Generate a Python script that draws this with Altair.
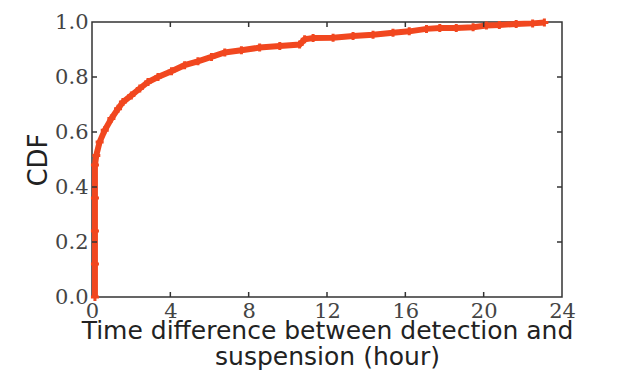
import altair as alt
import pandas as pd

# CDF of time difference (hours)
hours = [0.15, 0.15, 0.15, 0.15, 0.15, 0.22, 0.39, 0.65, 0.99, 1.33, 1.58, 2.01, 2.44, 2.86,
         3.37, 4.06, 4.73, 5.41, 6.10, 6.78, 7.63, 8.56, 9.59, 10.6, 10.86, 11.29, 12.31,
         13.33, 14.35, 15.37, 16.2, 17.08, 17.76, 18.6, 19.46, 20.14, 20.8, 21.66, 22.5, 23.1]
cdf = [0.0, 0.12, 0.24, 0.36, 0.48, 0.515, 0.564, 0.606, 0.649, 0.685, 0.709, 0.733, 0.758, 0.782,
       0.800, 0.821, 0.843, 0.857, 0.873, 0.889, 0.897, 0.907, 0.913, 0.918, 0.937, 0.942, 0.943,
       0.949, 0.954, 0.961, 0.966, 0.975, 0.978, 0.978, 0.981, 0.987, 0.989, 0.993, 0.995, 0.998]

x_ticks = [0, 4, 8, 12, 16, 20, 24]
y_ticks = [0.0, 0.2, 0.4, 0.6, 0.8, 1.0]
x_inner = [4, 8, 12, 16, 20]
y_inner = [0.2, 0.4, 0.6, 0.8]

W, H = 470, 275
COLOR = "#F1471F"
FRAME = "#333333"

df = pd.DataFrame({"h": hours, "cdf": cdf})

xscale = alt.Scale(domain=[0, 24], nice=False, zero=False)
yscale = alt.Scale(domain=[0, 1], nice=False)

xaxis = alt.Axis(values=x_ticks, ticks=False, domain=False, grid=False,
                 labelFont="DejaVu Serif", labelFontSize=21, labelColor="#444444",
                 labelPadding=3, labelFlush=False,
                 title=["Time difference between detection and", "suspension (hour)"],
                 titleFont="DejaVu Sans", titleFontSize=25, titleFontWeight="normal",
                 titleColor="#222222", titleLineHeight=26, titlePadding=-3)
yaxis = alt.Axis(values=y_ticks, ticks=False, domain=False, grid=False, format=".1f",
                 labelFont="DejaVu Serif", labelFontSize=21, labelColor="#444444",
                 labelPadding=4, labelFlush=False,
                 title="CDF", titleFont="DejaVu Sans", titleFontSize=26,
                 titleFontWeight="normal", titleColor="#222222", titlePadding=3)

base = alt.Chart(df)
line = base.mark_line(color=COLOR, strokeWidth=6).encode(
    x=alt.X("h:Q", scale=xscale, axis=xaxis),
    y=alt.Y("cdf:Q", scale=yscale, axis=yaxis),
)
pts = base.mark_point(shape="M-1,0H1M0,-1V1", size=64, strokeWidth=3, color=COLOR,
                      filled=False, opacity=1).encode(
    x=alt.X("h:Q", scale=xscale),
    y=alt.Y("cdf:Q", scale=yscale),
)

xt = pd.DataFrame({"t": x_inner})
yt = pd.DataFrame({"t": y_inner})
tick_style = dict(color=FRAME, strokeWidth=1.5)
bt = alt.Chart(xt).mark_rule(**tick_style).encode(
    x=alt.X("t:Q", scale=xscale), y=alt.value(H), y2=alt.value(H - 5))
tt = alt.Chart(xt).mark_rule(**tick_style).encode(
    x=alt.X("t:Q", scale=xscale), y=alt.value(0), y2=alt.value(5))
lt = alt.Chart(yt).mark_rule(**tick_style).encode(
    y=alt.Y("t:Q", scale=yscale), x=alt.value(0), x2=alt.value(5))
rt = alt.Chart(yt).mark_rule(**tick_style).encode(
    y=alt.Y("t:Q", scale=yscale), x=alt.value(W), x2=alt.value(W - 5))

chart = alt.layer(line, pts, bt, tt, lt, rt).properties(
    width=W, height=H,
    background="white",
    autosize=alt.AutoSizeParams(type="none"),
    padding={"left": 84, "top": 14, "right": 50, "bottom": 76},
).configure_view(stroke=FRAME, strokeWidth=1.5)

chart.save("out.html", embed_options={"renderer": "svg", "actions": False})
